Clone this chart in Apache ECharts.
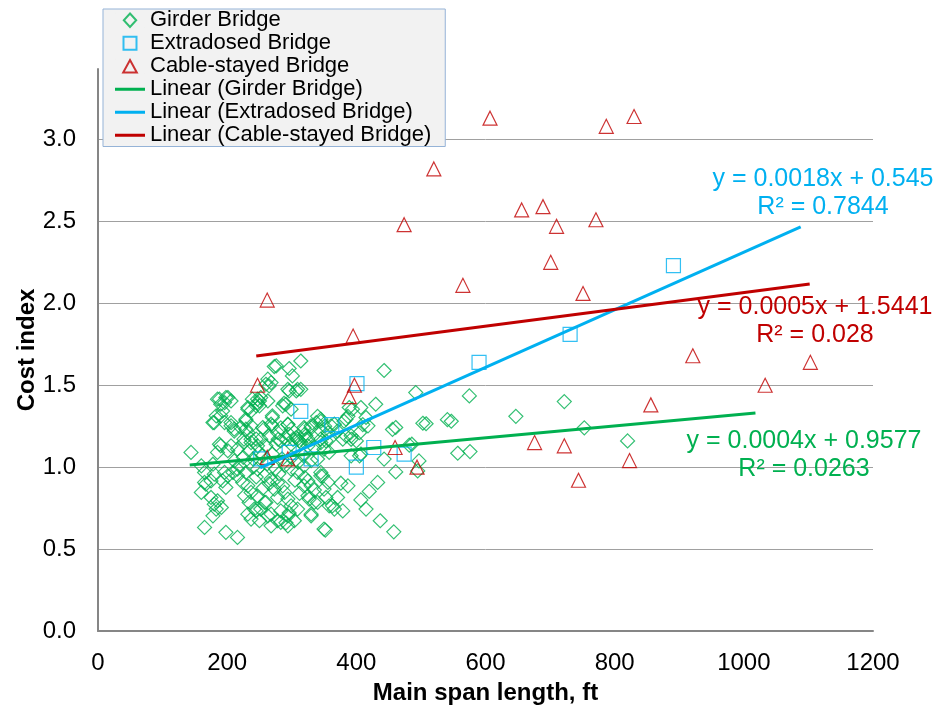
<!DOCTYPE html>
<html>
<head>
<meta charset="utf-8">
<script src="https://cdn.jsdelivr.net/npm/echarts@6/dist/echarts.min.js"></script>
<style>html,body{margin:0;padding:0;background:#fff}#c{width:938px;height:710px}</style>
</head>
<body>
<div id="c"></div>
<script>
// ---- data (main span length ft, cost index) ----
const girderPoints = [
[575,1.435],[547,1.28],[647,1.31],[722,1.40],[753,1.24],[820,1.16],[557,1.085],[576,1.095],[443,1.59],[492,1.455],
[541,1.29],[503,1.268],[508,1.265],[461,1.242],[456,1.23],[482,1.134],[486,1.14],[495,0.977],[461,0.971],[433,0.907],
[420,0.852],[407,0.80],[415,0.744],[437,0.673],[458,0.605],[352,0.616],[376,0.902],[387,0.886],[371,0.815],[363,0.764],
[379,0.733],[330,0.713],[327,0.805],[335,0.785],[430,1.384],[418,1.252],[407,1.364],[389,1.364],[394,1.354],[384,1.293],
[366,1.262],[361,1.252],[345,1.293],[338,1.272],[330,1.252],[320,1.232],[379,1.171],[392,1.191],[400,1.16],[353,1.16],
[345,1.171],[325,1.171],[314,1.15],[314,1.648],[314,1.475],[392,1.069],[405,1.069],[319,1.008],[345,0.968],[348,0.947],
[325,0.916],[319,0.886],[273,1.614],[296,1.602],[301,1.557],[263,1.537],[268,1.516],[260,1.506],[296,1.465],[307,1.465],
[247,1.415],[250,1.404],[185,1.415],[196,1.394],[201,1.425],[232,1.354],[263,1.404],[270,1.303],[288,1.39],[299,1.354],
[180,1.272],[190,1.313],[206,1.272],[211,1.232],[229,1.293],[229,1.232],[237,1.252],[257,1.232],[270,1.252],[278,1.212],
[294,1.262],[299,1.232],[307,1.181],[322,1.191],[319,1.242],[190,1.13],[185,1.09],[201,1.10],[144,1.09],[216,1.11],
[226,1.15],[234,1.10],[237,1.171],[247,1.13],[252,1.171],[265,1.191],[276,1.14],[283,1.16],[299,1.14],[309,1.171],
[325,1.13],[335,1.12],[345,1.15],[350,1.11],[358,1.09],[160,1.008],[165,0.968],[175,0.916],[167,0.896],[180,0.957],
[196,0.968],[193,0.916],[160,0.846],[175,0.815],[180,0.774],[183,0.744],[178,0.703],[165,0.632],[198,0.602],[216,0.571],
[211,1.038],[219,1.008],[229,0.968],[216,0.947],[224,0.907],[232,0.886],[237,0.846],[227,0.825],[234,0.785],[242,0.744],
[232,0.713],[237,0.683],[247,0.988],[258,0.947],[268,0.927],[278,0.907],[273,0.866],[286,0.886],[289,0.846],[278,0.815],
[294,0.805],[299,0.764],[309,0.744],[294,0.703],[304,0.673],[283,0.663],[268,0.642],[263,0.703],[258,0.785],[247,0.825],
[252,0.744],[299,0.988],[309,0.968],[320,0.937],[330,0.886],[325,0.825],[340,0.785],[330,0.703],[350,0.622],[345,0.947],
[356,0.907],[350,0.866],[353,0.815],[358,0.764],[294,0.642],[415,1.303],[178,1.018],[165,0.907],[198,0.876],[185,0.795],
[191,0.754],[201,0.947],[209,0.968],[216,0.988],[366,0.744],[260,0.785],[268,0.713],[278,0.673],[291,0.66],[296,0.72],
[283,0.733],[245,0.733],[250,0.673],[497,1.038],[443,1.049],[407,1.08],[188,1.415],[198,1.425],[190,1.384],[206,1.404],
[183,1.313],[193,1.343],[196,1.272],[178,1.272],[206,1.252],[211,1.22],[221,1.242],[229,1.283],[239,1.415],[232,1.364],
[237,1.343],[245,1.374],[188,1.14],[206,1.13],[226,1.171],[237,1.15],[232,1.212],[276,1.618],[294,1.475],[309,1.475],
[265,1.496],[252,1.425],[247,1.394],[250,1.374],[291,1.384],[286,1.374],[270,1.313],[268,1.262],[255,1.242],[245,1.171],
[260,1.13],[283,1.24],[294,1.26],[296,1.2],[279,1.17],[292,1.17],[302,1.17],[312,1.16],[320,1.2],[330,1.24],
[322,1.17],[340,1.31],[345,1.28],[351,1.25],[343,1.23],[356,1.21],[358,1.17],[371,1.22],[381,1.28],[387,1.31],
[384,1.19],[392,1.17],[405,1.21],[410,1.26],[225,1.06],[240,1.05],[255,1.07],[262,1.02],[270,1.08],[285,1.05],
[290,1.01],[300,1.06],[310,1.03],[318,1.07],[330,1.04],[240,1.0],[250,1.09],[275,0.99],[305,0.92],[265,0.90],
[280,0.96],[245,0.94],[255,0.87],[312,0.84],[335,0.86],[340,1.05]
];
const extradosedPoints = [
[891,2.23],[731,1.81],[590,1.64],[401,1.51],[427,1.12],[474,1.08],[400,1.00],[314,1.34],[362,1.26],[296,1.09],[330,1.05],[252,1.05]
];
const cableStayedPoints = [
[607,3.13],[830,3.14],[787,3.08],[520,2.82],[474,2.48],[656,2.57],[689,2.59],[710,2.47],[771,2.51],[701,2.25],
[565,2.11],[751,2.06],[262,2.02],[395,1.80],[921,1.68],[1103,1.64],[1033,1.50],[397,1.50],[247,1.50],[389,1.43],
[856,1.38],[676,1.15],[722,1.13],[460,1.12],[823,1.04],[262,1.06],[294,1.05],[494,1.00],[744,0.92]
];
// trendline end points
const girderTrend = [[142,1.013],[1018,1.331]];
const extradosedTrend = [[251,0.995],[1088,2.466]];
const cableTrend = [[245,1.679],[1102,2.118]];

const seriesNames = ['Girder Bridge','Extradosed Bridge','Cable-stayed Bridge',
  'Linear (Girder Bridge)','Linear (Extradosed Bridge)','Linear (Cable-stayed Bridge)'];
const equationTexts = {
  extradosed: ['y = 0.0018x + 0.545','R² = 0.7844'],
  cable: ['y = 0.0005x + 1.5441','R² = 0.028'],
  girder: ['y = 0.0004x + 0.9577','R² = 0.0263']
};
const xTicks = {min:0, max:1200, step:200};
const yTicks = {min:0, max:3.43, step:0.5};

const GREEN='#00b050', BLUE='#00b0f0', RED='#c00000';
const FONT='Liberation Sans, Arial, sans-serif';

// legend icons drawn in a 30x14 frame (corner anchors keep the frame size)
const FRAME='M0,0L0.01,0M30,14L29.99,14';
const ICON = {
  diamond:'path://'+FRAME+'M15,0.3L21.2,7L15,13.7L8.8,7Z',
  rect:'path://'+FRAME+'M8.5,0.5L21.5,0.5L21.5,13.5L8.5,13.5Z',
  triangle:'path://'+FRAME+'M15,0.8L21.8,13.2L8.2,13.2Z',
  line:'path://'+FRAME+'M0,5.4L30,5.4L30,8.6L0,8.6Z'
};

const chart = echarts.init(document.getElementById('c'), null, {renderer:'canvas'});

function scatter(name, data, symbol, color){
  return {name, type:'scatter', data, symbol, symbolSize:14,
    itemStyle:{color:'rgba(255,255,255,0)', borderColor:color, borderWidth:1.2},
    emphasis:{disabled:true}, animation:false};
}
function trend(name, data, color){
  return {name, type:'line', data, symbol:'none', showSymbol:false,
    lineStyle:{color, width:3}, itemStyle:{color}, emphasis:{disabled:true}, animation:false, z:3};
}
function eqText(lines, cx, cy, color){
  return lines.map((t,i)=>({type:'text', x:cx, y:cy+i*28,
    style:{text:t, fill:color, font:'25px '+FONT, textAlign:'center', textVerticalAlign:'middle'}, z:10}));
}

chart.setOption({
  animation:false,
  grid:{left:98, right:65, top:69, bottom:79},
  xAxis:{type:'value', min:xTicks.min, max:xTicks.max, interval:xTicks.step,
    name:'Main span length, ft', nameLocation:'middle', nameGap:50, nameMoveOverlap:false,
    nameTextStyle:{fontFamily:FONT, fontSize:24, fontWeight:'bold', color:'#000'},
    axisLine:{lineStyle:{color:'#868686', width:2}}, axisTick:{show:false},
    axisLabel:{fontFamily:FONT, fontSize:24, color:'#000', margin:20, formatter:v=>String(v)},
    splitLine:{show:false}},
  yAxis:{type:'value', min:yTicks.min, max:yTicks.max, interval:yTicks.step,
    name:'Cost index', nameLocation:'middle', nameGap:59, nameRotate:90, nameMoveOverlap:false,
    nameTextStyle:{fontFamily:FONT, fontSize:24, fontWeight:'bold', color:'#000'},
    axisLine:{show:true, lineStyle:{color:'#868686', width:2}}, axisTick:{show:false},
    axisLabel:{fontFamily:FONT, fontSize:24, color:'#000', margin:22, showMaxLabel:false,
      formatter:v=>v.toFixed(1)},
    splitLine:{show:true, showMaxLine:false, lineStyle:{color:'#a0a0a0', width:1}}},
  legend:{orient:'vertical', left:103, top:9,
    data:[
      {name:seriesNames[0], icon:ICON.diamond},
      {name:seriesNames[1], icon:ICON.rect},
      {name:seriesNames[2], icon:ICON.triangle},
      {name:seriesNames[3], icon:ICON.line},
      {name:seriesNames[4], icon:ICON.line},
      {name:seriesNames[5], icon:ICON.line}
    ],
    itemWidth:30, itemHeight:14, itemGap:0.5, symbolKeepAspect:true,
    backgroundColor:'#f2f2f2', borderColor:'#95b3d7', borderWidth:1, borderRadius:0,
    padding:[0,14,0,11],
    textStyle:{fontFamily:FONT, fontSize:22, color:'#000', lineHeight:22.5}},
  series:[
    scatter(seriesNames[0], girderPoints, 'diamond', GREEN),
    scatter(seriesNames[1], extradosedPoints, 'rect', BLUE),
    scatter(seriesNames[2], cableStayedPoints, 'triangle', RED),
    trend(seriesNames[3], girderTrend, GREEN),
    trend(seriesNames[4], extradosedTrend, BLUE),
    trend(seriesNames[5], cableTrend, RED)
  ],
  graphic:[].concat(
    eqText(equationTexts.extradosed, 823, 179, BLUE),
    eqText(equationTexts.cable, 815, 307, RED),
    eqText(equationTexts.girder, 804, 441, GREEN)
  )
});
</script>
</body>
</html>
